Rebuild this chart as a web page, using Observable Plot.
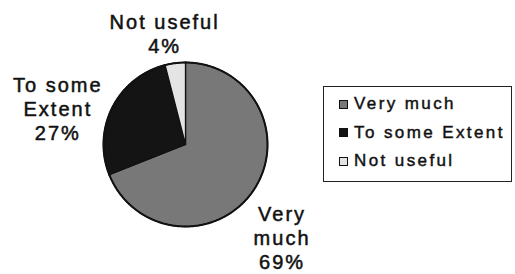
<!DOCTYPE html>
<html>
<head>
<meta charset="utf-8">
<script src="https://cdn.jsdelivr.net/npm/d3@7"></script>
<script src="https://cdn.jsdelivr.net/npm/@observablehq/plot@0.6"></script>
<style>
  html, body { margin: 0; padding: 0; background: #fff; }
  #wrap { position: relative; width: 515px; height: 274px; overflow: hidden; }
  #legend { position: absolute; left: 323px; top: 86px; width: 187px; height: 94px;
    border: 1.5px solid #222; font-family: "Liberation Sans", Arial, sans-serif;
    font-size: 17px; letter-spacing: 2.4px; color: #111; -webkit-text-stroke: 0.45px #111; }
  .item { position: absolute; left: 15px; display: flex; align-items: center; height: 20px; }
  .sw { width: 7px; height: 7px; border: 1.5px solid #111; margin-right: 6px; }
</style>
</head>
<body>
<div id="wrap"></div>
<script>
const categories = ["Very much", "To some Extent", "Not useful"];
const values = [69, 27, 4];
const colors = ["#787878", "#141414", "#e4e4e4"];
const labelText = ["Very\nmuch\n69%", "To some\nExtent\n27%", "Not useful\n4%"];

const W = 515, H = 274, CX = 185, CY = 144, R = 82;

const arcs = d3.pie().sort(null).value(d => d)(values);
const slices = [];
arcs.forEach((a, i) => {
  slices.push({cat: categories[i], x: 0, y: 0});
  const n = Math.max(2, Math.ceil((a.endAngle - a.startAngle) / 0.01));
  for (let k = 0; k <= n; k++) {
    const t = a.startAngle + (a.endAngle - a.startAngle) * k / n;
    slices.push({cat: categories[i], x: Math.sin(t), y: Math.cos(t)});
  }
});
const labels = arcs.map((a, i) => {
  const m = (a.startAngle + a.endAngle) / 2;
  return {cat: categories[i], text: labelText[i], x: 1.35 * Math.sin(m), y: 1.35 * Math.cos(m)};
});
const shift = {"Very much": [5, 31], "To some Extent": [-29, 14], "Not useful": [-7, -1]};

const chart = Plot.plot({
  width: W, height: H,
  margin: 0,
  x: {domain: [-CX / R, (W - CX) / R], range: [0, W], axis: null},
  y: {domain: [-(H - CY) / R, CY / R], range: [H, 0], axis: null},
  color: {domain: categories, range: colors},
  style: {fontFamily: "'Liberation Sans', Arial, sans-serif", letterSpacing: "2px", background: "#fff"},
  marks: [
    Plot.line(slices, {x: "x", y: "y", z: "cat", fill: "cat", stroke: "#111", strokeWidth: 1.3, curve: "linear-closed"}),
    Plot.line(slices.filter(d => !(d.x === 0 && d.y === 0)), {x: "x", y: "y", z: "cat", stroke: "#111", strokeWidth: 2}),
    ...categories.map(c => Plot.text(labels.filter(d => d.cat === c), {
      x: "x", y: "y", text: "text", fontSize: 20, lineHeight: 1.2, fill: "#111",
      stroke: "#111", strokeWidth: 0.5,
      textAnchor: "middle", lineAnchor: "middle", dx: shift[c][0], dy: shift[c][1]
    }))
  ]
});

const wrap = document.getElementById("wrap");
wrap.appendChild(chart);

const color = chart.scale("color");
const legend = document.createElement("div");
legend.id = "legend";
color.domain.forEach((c, i) => {
  const it = document.createElement("div");
  it.className = "item";
  it.style.top = (7 + i * 28.5) + "px";
  const sw = document.createElement("div");
  sw.className = "sw";
  sw.style.background = color.range[i];
  const tx = document.createElement("span");
  tx.textContent = c;
  it.appendChild(sw); it.appendChild(tx);
  legend.appendChild(it);
});
wrap.appendChild(legend);
</script>
</body>
</html>
